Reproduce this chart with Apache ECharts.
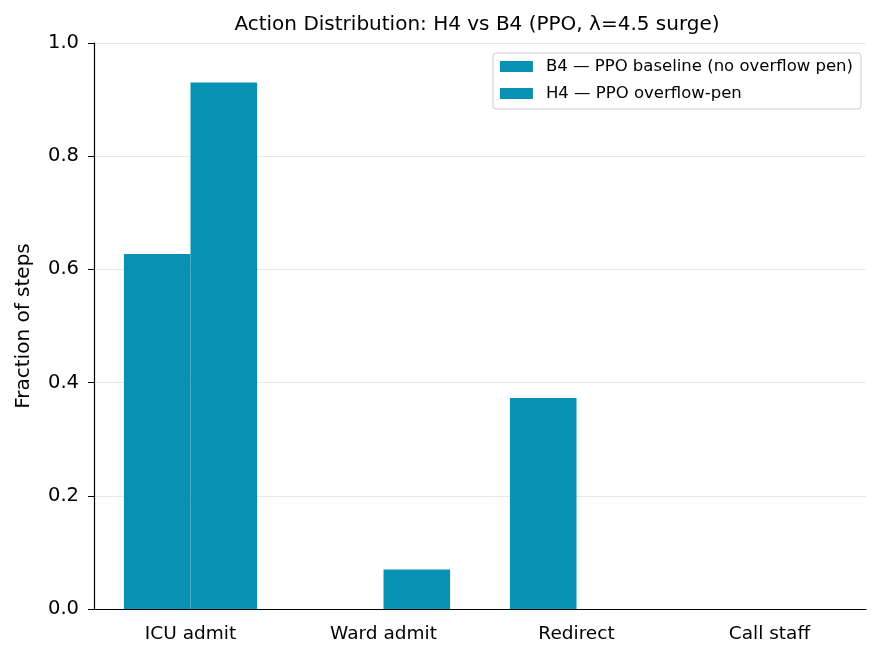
<!DOCTYPE html>
<html>
<head>
    <meta charset="utf-8">
    <title>Action Distribution</title>
    <style>
        body { margin: 0; padding: 0; background: #fff; }
        #chart { width: 884px; height: 659px; }
    </style>
</head>
<body>
    <div id="chart"></div>
    <script src="https://cdn.jsdelivr.net/npm/echarts@6/dist/echarts.min.js"></script>
    <script>
        var actions = ['ICU admit', 'Ward admit', 'Redirect', 'Call staff'];
        var b4Values = [0.627, 0.0, 0.373, 0.0];
        var h4Values = [0.93, 0.07, 0.0, 0.0];
        var seriesNames = ['B4 — PPO baseline (no overflow pen)', 'H4 — PPO overflow-pen'];
        var yTicks = [0, 0.2, 0.4, 0.6, 0.8, 1.0];

        var barColor = '#0891b2';
        var font = 'DejaVu Sans';

        var chart = echarts.init(document.getElementById('chart'));

        var option = {
            backgroundColor: '#fff',
            animation: false,
            title: {
                text: 'Action Distribution: H4 vs B4 (PPO, λ=4.5 surge)',
                left: 472,
                textAlign: 'center',
                top: 10,
                textStyle: { fontFamily: font, fontSize: 20, fontWeight: 'normal', color: '#000' }
            },
            legend: {
                orient: 'vertical',
                right: 23,
                top: 53,
                icon: 'rect',
                itemWidth: 33,
                itemHeight: 11,
                itemGap: 10,
                padding: [5, 8, 7, 7],
                borderColor: '#cccccc',
                borderWidth: 1,
                borderRadius: 3,
                textStyle: { fontFamily: font, fontSize: 16.5, color: '#000', padding: [0, 0, 0, 8] },
                data: seriesNames
            },
            grid: { left: 94, right: 18, top: 43, bottom: 50 },
            xAxis: {
                type: 'category',
                data: actions,
                axisLine: { lineStyle: { color: '#000', width: 1.2 } },
                axisTick: { alignWithLabel: true, length: 6, lineStyle: { color: '#000' } },
                axisLabel: { fontFamily: font, fontSize: 18.5, color: '#000', margin: 16 }
            },
            yAxis: {
                type: 'value',
                min: 0,
                max: 1.0,
                interval: 0.2,
                name: 'Fraction of steps',
                nameLocation: 'middle',
                nameGap: 60,
                nameTextStyle: { fontFamily: font, fontSize: 20, color: '#000' },
                axisLine: { show: true, lineStyle: { color: '#000', width: 1.2 } },
                axisTick: { show: true, length: 6, lineStyle: { color: '#000' } },
                axisLabel: {
                    fontFamily: font, fontSize: 19.5, color: '#000', margin: 15,
                    formatter: function (v) { return yTicks.indexOf(v) >= 0 ? v.toFixed(1) : ''; }
                },
                splitLine: { show: true, lineStyle: { color: '#e8e8e8', width: 1 } }
            },
            series: [
                {
                    name: seriesNames[0],
                    type: 'bar',
                    data: b4Values,
                    barWidth: '34.5%',
                    barGap: '0%',
                    itemStyle: { color: barColor }
                },
                {
                    name: seriesNames[1],
                    type: 'bar',
                    data: h4Values,
                    barWidth: '34.5%',
                    barGap: '0%',
                    itemStyle: { color: barColor }
                }
            ]
        };

        chart.setOption(option);
    </script>
</body>
</html>
